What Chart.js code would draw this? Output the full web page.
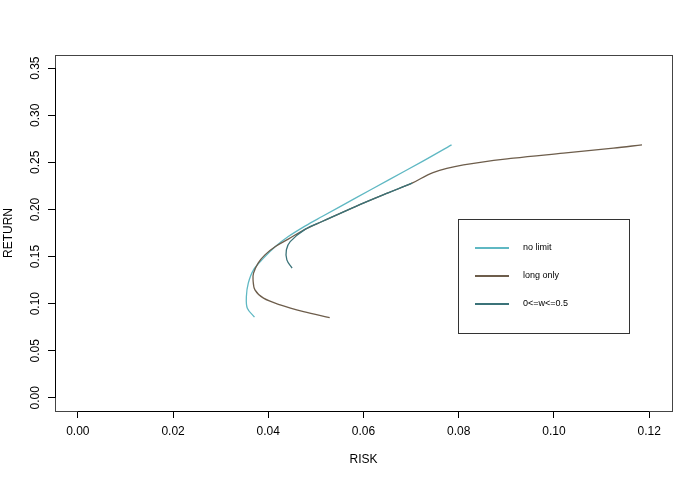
<!DOCTYPE html>
<html>
<head>
<meta charset="utf-8">
<script src="https://cdn.jsdelivr.net/npm/chart.js@4/dist/chart.umd.min.js"></script>
<style>
html,body{margin:0;padding:0;background:#fff;}
#wrap{width:700px;height:480px;}
</style>
</head>
<body>
<div id="wrap"><canvas id="c" width="700" height="480"></canvas></div>
<script>
// ---- data ----
const seriesLabels = ["no limit", "long only", "0<=w<=0.5"];
const riskNoLimit = [0.0371, 0.0356, 0.0354, 0.0358, 0.0369, 0.0390, 0.0415, 0.0442, 0.0478, 0.0513, 0.0583, 0.0653, 0.0723, 0.0785];
const retNoLimit  = [0.0857, 0.0952, 0.1075, 0.1218, 0.1359, 0.1483, 0.1606, 0.1712, 0.1826, 0.1925, 0.2120, 0.2314, 0.2508, 0.2686];
const riskLongOnly = [0.0529, 0.0474, 0.0425, 0.0390, 0.0372, 0.0368, 0.0369, 0.0379, 0.0393, 0.0415, 0.0442, 0.0478, 0.0513, 0.0583, 0.0653, 0.0702, 0.0746, 0.0810, 0.0915, 0.1020, 0.1125, 0.1185];
const retLongOnly  = [0.0852, 0.0916, 0.0987, 0.1058, 0.1146, 0.1253, 0.1324, 0.1433, 0.1518, 0.1606, 0.1685, 0.1791, 0.1872, 0.2031, 0.2179, 0.2279, 0.2392, 0.2473, 0.2545, 0.2598, 0.2651, 0.2686];
const riskBounded = [0.0450, 0.0439, 0.0438, 0.0446, 0.0478, 0.0513, 0.0583, 0.0653, 0.0702];
const retBounded  = [0.1377, 0.1465, 0.1571, 0.1659, 0.1791, 0.1872, 0.2031, 0.2179, 0.2279];
const xTicks = [0.00, 0.02, 0.04, 0.06, 0.08, 0.10, 0.12];
const yTicks = [0.00, 0.05, 0.10, 0.15, 0.20, 0.25, 0.30, 0.35];
const xAxisTitle = "RISK";
const yAxisTitle = "RETURN";

const colors = ["#5fb8c3", "#6d5d4b", "#3b7379"];

function pts(xs, ys){ return xs.map((x,i)=>({x:x, y:ys[i]})); }

Chart.defaults.font.family = "'Liberation Sans', Arial, Helvetica, sans-serif";
Chart.defaults.font.size = 12;
Chart.defaults.color = "#000";

const framePlugin = {
  id: 'frame',
  afterDraw(chart){
    const ctx = chart.ctx, a = chart.chartArea;
    const xs = chart.scales.x, ys = chart.scales.y;
    ctx.save();
    ctx.strokeStyle = '#444';
    ctx.lineWidth = 1;
    ctx.strokeRect(Math.round(a.left)+0.5, Math.round(a.top)+0.5, Math.round(a.right-a.left), Math.round(a.bottom-a.top));
    // axis segments
    ctx.strokeStyle = '#000';
    ctx.beginPath();
    const by = Math.round(a.bottom)+0.5;
    ctx.moveTo(xs.getPixelForValue(xTicks[0]), by);
    ctx.lineTo(xs.getPixelForValue(xTicks[xTicks.length-1]), by);
    const lx = Math.round(a.left)+0.5;
    ctx.moveTo(lx, ys.getPixelForValue(yTicks[0]));
    ctx.lineTo(lx, ys.getPixelForValue(yTicks[yTicks.length-1]));
    ctx.stroke();
    // legend
    const L = 458, T = 219, R = 629, B = 333;
    ctx.strokeStyle = '#333';
    ctx.strokeRect(L+0.5, T+0.5, R-L, B-T);
    ctx.font = "9px 'Liberation Sans', Arial, sans-serif";
    ctx.textBaseline = 'middle';
    ctx.textAlign = 'left';
    const rows = [248, 276, 304];
    chart.data.datasets.forEach((ds, i) => {
      ctx.strokeStyle = ds.borderColor;
      ctx.lineWidth = 1.8;
      ctx.beginPath();
      ctx.moveTo(475, rows[i]);
      ctx.lineTo(509, rows[i]);
      ctx.stroke();
      ctx.fillStyle = '#000';
      ctx.fillText(ds.label, 523, rows[i]);
    });
    ctx.restore();
  }
};

new Chart(document.getElementById('c'), {
  type: 'line',
  data: {
    datasets: [
      { label: seriesLabels[0], data: pts(riskNoLimit, retNoLimit), borderColor: colors[0], order: 3 },
      { label: seriesLabels[1], data: pts(riskLongOnly, retLongOnly), borderColor: colors[1], order: 2 },
      { label: seriesLabels[2], data: pts(riskBounded, retBounded), borderColor: colors[2], order: 1 }
    ].map(d => Object.assign(d, { borderWidth: 1.3, pointRadius: 0, fill: false, tension: 0.35, backgroundColor: d.borderColor }))
  },
  options: {
    responsive: false,
    animation: false,
    events: [],
    layout: { padding: { top: 55, right: 28, left: 0, bottom: 0 } },
    plugins: { legend: { display: false }, tooltip: { enabled: false } },
    scales: {
      x: {
        type: 'linear',
        min: -0.0048, max: 0.1248,
        border: { display: false },
        grid: { display: true, drawOnChartArea: false, drawTicks: true, tickLength: 7, color: '#000' },
        afterBuildTicks: s => { s.ticks = xTicks.map(v => ({ value: v })); },
        afterFit: s => { s.height = 69; },
        ticks: { callback: v => v.toFixed(2), padding: 6, maxRotation: 0, minRotation: 0, autoSkip: false },
        title: { display: true, text: xAxisTitle, padding: { top: 0, bottom: 13 } }
      },
      y: {
        type: 'linear',
        min: -0.014, max: 0.364,
        border: { display: false },
        grid: { display: true, drawOnChartArea: false, drawTicks: true, tickLength: 7, color: '#000' },
        afterBuildTicks: s => { s.ticks = yTicks.map(v => ({ value: v })); },
        afterFit: s => { s.width = 55; },
        ticks: { callback: v => v.toFixed(2), padding: 1, minRotation: 90, maxRotation: 90, crossAlign: 'center', autoSkip: false },
        title: { display: true, text: yAxisTitle, padding: { top: 1, bottom: 0 } }
      }
    }
  },
  plugins: [framePlugin]
});
</script>
</body>
</html>
